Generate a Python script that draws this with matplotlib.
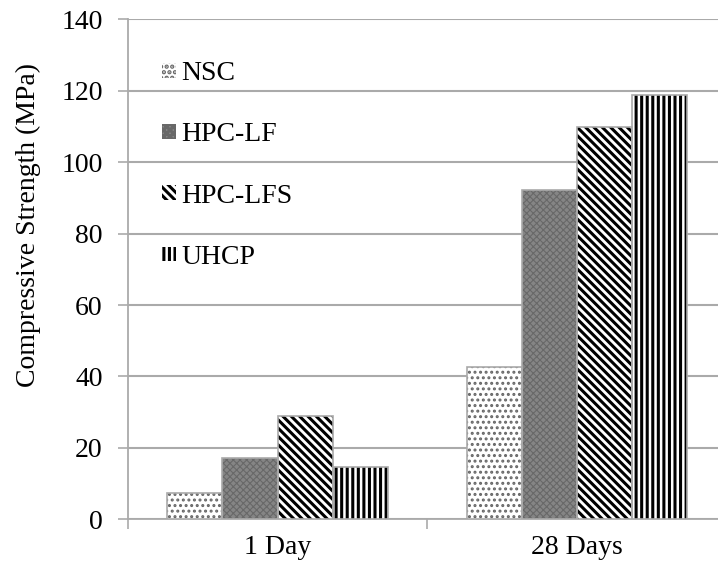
import numpy as np
import matplotlib.pyplot as plt
from matplotlib.patches import Patch

plt.rcParams['font.family'] = ['Liberation Serif', 'DejaVu Serif']
plt.rcParams['hatch.linewidth'] = 2.2

categories = ['1 Day', '28 Days']
series = ['NSC', 'HPC-LF', 'HPC-LFS', 'UHCP']
values = {
    'NSC': [7.3, 42.7],
    'HPC-LF': [17.1, 92.2],
    'HPC-LFS': [28.9, 109.9],
    'UHCP': [14.7, 118.8],
}
yticks = [0, 20, 40, 60, 80, 100, 120, 140]

# face colour, hatch, hatch colour, hatch width
styles = {
    'NSC': ('white', '...', '#666666', 1.4),
    'HPC-LF': ('#858585', 'xxxxx', '#686868', 0.8),
    'HPC-LFS': ('white', '\\\\\\\\', 'black', 2.2),
    'UHCP': ('white', '|||', 'black', 2.2),
}
outline = '#aaaaaa'
fs = 20


def hatch_width(artist, w):
    if hasattr(artist, 'set_hatch_linewidth'):
        artist.set_hatch_linewidth(w)


fig = plt.figure(figsize=(7.18, 5.72), dpi=100)
W, H = 718, 572
ax = fig.add_axes([127.75 / W, (H - 519.3) / H, 599 / W, 500 / H])

x = np.arange(len(categories))
bw = 0.184
for i, s in enumerate(series):
    fc, hatch, hc, hw = styles[s]
    pos = x + (i - 1.5) * bw
    bars = ax.bar(pos, values[s], bw, color=fc, hatch=hatch, edgecolor=hc,
                  linewidth=0, zorder=3)
    for b in bars:
        hatch_width(b, hw)
    ax.bar(pos, values[s], bw, fill=False, edgecolor=outline,
           linewidth=1.2, zorder=4)

ax.set_xlim(-0.5, 1.5)
ax.set_ylim(0, 140)
ax.set_yticks(yticks)
ax.set_xticks(x)
ax.set_xticklabels(categories)
ax.set_xticks([-0.5, 0.5, 1.5], minor=True)
ax.tick_params(axis='x', which='major', length=0, pad=11, labelsize=fs)
ax.tick_params(axis='x', which='minor', length=7, color=outline, width=1.2)
ax.tick_params(axis='y', length=7, color=outline, width=1.2, labelsize=fs, pad=11)
ax.yaxis.grid(True, color=outline, linewidth=1.5, zorder=0)
ax.set_axisbelow(True)
for sp in ['top', 'right']:
    ax.spines[sp].set_visible(False)
for sp in ['left', 'bottom']:
    ax.spines[sp].set_color(outline)
    ax.spines[sp].set_linewidth(1.3)
ax.set_ylabel('Compressive Strength (MPa)', fontsize=fs)
ax.yaxis.set_label_coords(-0.145, 0.589)

handles = []
for s in series:
    fc, hatch, hc, hw = styles[s]
    p = Patch(facecolor=fc, hatch=hatch, edgecolor=hc, linewidth=0)
    hatch_width(p, hw)
    handles.append(p)
ax.legend(handles, series, loc='upper left', bbox_to_anchor=(0.057, 0.916),
          frameon=False, fontsize=fs, handlelength=0.52, handleheight=0.42,
          handletextpad=0.17, labelspacing=1.3, borderpad=0, borderaxespad=0)

fig.savefig('out.png', dpi=100)
